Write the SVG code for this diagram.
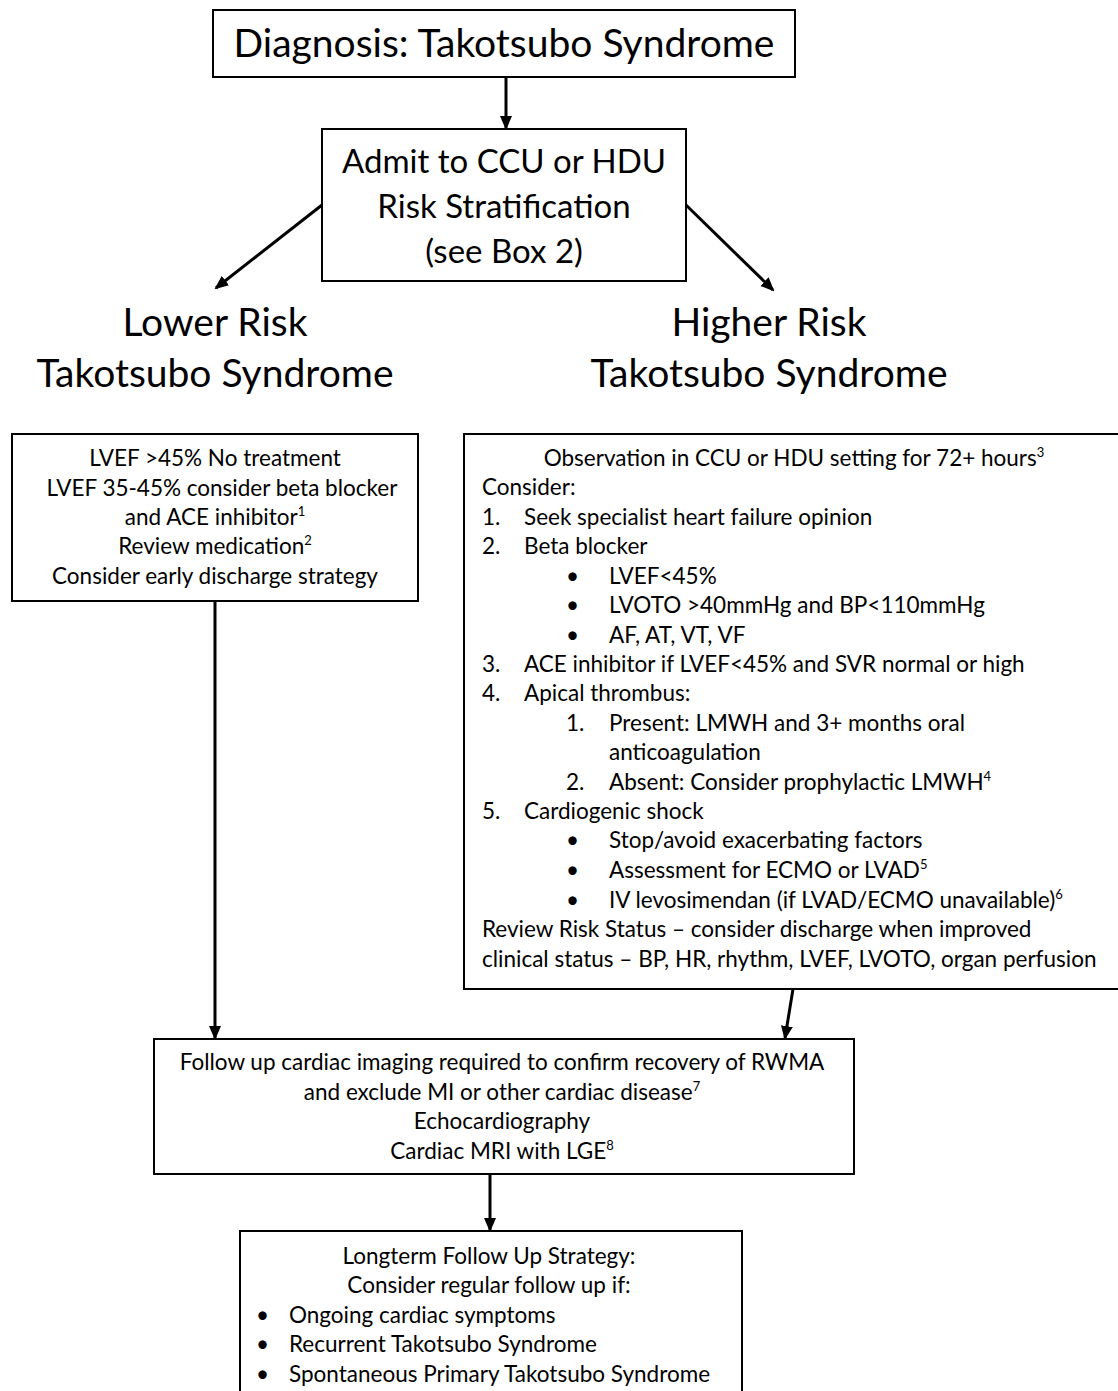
<svg xmlns="http://www.w3.org/2000/svg" width="1118" height="1391" viewBox="0 0 1118 1391">
<defs>
<marker id="ah" markerWidth="14" markerHeight="14" refX="12" refY="7" orient="auto" markerUnits="userSpaceOnUse">
<path d="M0,1 L14,7 L0,13 Z" fill="#000"/>
</marker>
<style>
.box{fill:#fff;stroke:#000;stroke-width:2}
.t{font-family:Lato,"Liberation Sans",sans-serif;fill:#000}
.c{text-anchor:middle}
.s20{font-size:22.5px}
.s32{font-size:33px}
.s36{font-size:39px}
.sup{font-size:13px}
.conn{stroke:#000;stroke-width:3;fill:none;marker-end:url(#ah)}
</style>
</defs>
<rect width="1118" height="1391" fill="#fff"/>
<g id="connectors">
<line class="conn" x1="506" y1="77" x2="506" y2="128"/>
<line class="conn" x1="322" y1="205" x2="216" y2="288"/>
<line class="conn" x1="686" y1="205" x2="773" y2="290"/>
<line class="conn" x1="215" y1="601" x2="215" y2="1038"/>
<line class="conn" x1="793" y1="989" x2="785" y2="1038"/>
<line class="conn" x1="490" y1="1174" x2="490" y2="1230"/>
</g>
<g id="diagnosis">
<rect class="box" x="213" y="10" width="582" height="67"/>
<text class="t c s36" x="504" y="57">Diagnosis: Takotsubo Syndrome</text>
</g>
<g id="admit">
<rect class="box" x="322" y="129" width="364" height="152"/>
<text class="t c s32" x="504" y="173">Admit to CCU or HDU</text>
<text class="t c s32" x="504" y="218">Risk Stratification</text>
<text class="t c s32" x="504" y="263">(see Box 2)</text>
</g>
<g id="lower-risk">
<text class="t c s36" x="215" y="336">Lower Risk</text>
<text class="t c s36" x="215" y="387">Takotsubo Syndrome</text>
</g>
<g id="higher-risk">
<text class="t c s36" x="769" y="336">Higher Risk</text>
<text class="t c s36" x="769" y="387">Takotsubo Syndrome</text>
</g>
<g id="lower-box">
<rect class="box" x="12" y="434" width="406" height="167"/>
<text class="t c s20" x="215" y="466">LVEF &gt;45% No treatment</text>
<text class="t c s20" x="222" y="496">LVEF 35-45% consider beta blocker</text>
<text class="t c s20" x="215" y="525">and ACE inhibitor<tspan class="sup" dy="-9">1</tspan></text>
<text class="t c s20" x="215" y="554">Review medication<tspan class="sup" dy="-9">2</tspan></text>
<text class="t c s20" x="215" y="584">Consider early discharge strategy</text>
</g>
<g id="higher-box">
<rect class="box" x="464" y="434" width="664" height="555"/>
<text class="t c s20" x="794" y="466">Observation in CCU or HDU setting for 72+ hours<tspan class="sup" dy="-9">3</tspan></text>
<text class="t s20" x="482" y="495">Consider:</text>
<text class="t s20" x="482" y="525">1.</text><text class="t s20" x="524" y="525">Seek specialist heart failure opinion</text>
<text class="t s20" x="482" y="554">2.</text><text class="t s20" x="524" y="554">Beta blocker</text>
<text class="t s20" x="566" y="584">•</text><text class="t s20" x="609" y="584">LVEF&lt;45%</text>
<text class="t s20" x="566" y="613">•</text><text class="t s20" x="609" y="613">LVOTO &gt;40mmHg and BP&lt;110mmHg</text>
<text class="t s20" x="566" y="643">•</text><text class="t s20" x="609" y="643">AF, AT, VT, VF</text>
<text class="t s20" x="482" y="672">3.</text><text class="t s20" x="524" y="672">ACE inhibitor if LVEF&lt;45% and SVR normal or high</text>
<text class="t s20" x="482" y="701">4.</text><text class="t s20" x="524" y="701">Apical thrombus:</text>
<text class="t s20" x="566" y="731">1.</text><text class="t s20" x="609" y="731">Present: LMWH and 3+ months oral</text>
<text class="t s20" x="609" y="760">anticoagulation</text>
<text class="t s20" x="566" y="790">2.</text><text class="t s20" x="609" y="790">Absent: Consider prophylactic LMWH<tspan class="sup" dy="-9">4</tspan></text>
<text class="t s20" x="482" y="819">5.</text><text class="t s20" x="524" y="819">Cardiogenic shock</text>
<text class="t s20" x="566" y="848">•</text><text class="t s20" x="609" y="848">Stop/avoid exacerbating factors</text>
<text class="t s20" x="566" y="878">•</text><text class="t s20" x="609" y="878">Assessment for ECMO or LVAD<tspan class="sup" dy="-9">5</tspan></text>
<text class="t s20" x="566" y="908">•</text><text class="t s20" x="609" y="908">IV levosimendan (if LVAD/ECMO unavailable)<tspan class="sup" dy="-9">6</tspan></text>
<text class="t s20" x="482" y="937">Review Risk Status – consider discharge when improved</text>
<text class="t s20" x="482" y="967">clinical status – BP, HR, rhythm, LVEF, LVOTO, organ perfusion</text>
</g>
<g id="imaging">
<rect class="box" x="154" y="1039" width="700" height="135"/>
<text class="t c s20" x="502" y="1070">Follow up cardiac imaging required to confirm recovery of RWMA</text>
<text class="t c s20" x="502" y="1100">and exclude MI or other cardiac disease<tspan class="sup" dy="-9">7</tspan></text>
<text class="t c s20" x="502" y="1129">Echocardiography</text>
<text class="t c s20" x="502" y="1159">Cardiac  MRI with LGE<tspan class="sup" dy="-9">8</tspan></text>
</g>
<g id="longterm">
<rect class="box" x="240" y="1231" width="502" height="180"/>
<text class="t c s20" x="489" y="1264">Longterm Follow Up Strategy:</text>
<text class="t c s20" x="489" y="1293">Consider regular follow up if:</text>
<text class="t s20" x="256" y="1323">•</text><text class="t s20" x="289" y="1323">Ongoing cardiac symptoms</text>
<text class="t s20" x="256" y="1352">•</text><text class="t s20" x="289" y="1352">Recurrent Takotsubo Syndrome</text>
<text class="t s20" x="256" y="1382">•</text><text class="t s20" x="289" y="1382">Spontaneous Primary Takotsubo Syndrome</text>
</g>
</svg>
